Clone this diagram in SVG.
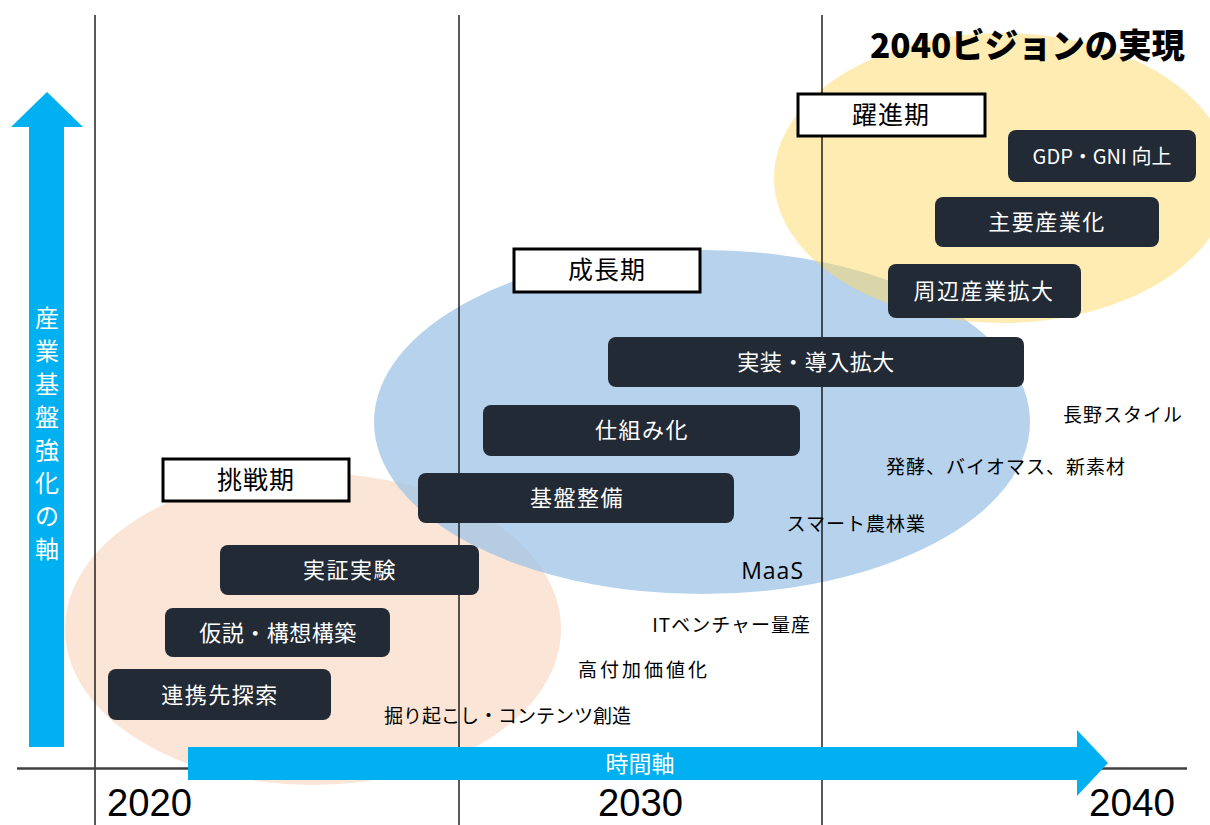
<svg xmlns="http://www.w3.org/2000/svg" width="1210" height="825" viewBox="0 0 1210 825">
<style>
.jp{font-family:"Noto Sans CJK JP","Noto Sans",sans-serif;}
.box rect{fill:#222A35;}
.box text{fill:#fff;font-size:22px;letter-spacing:1.5px;text-anchor:middle;font-family:"Noto Sans CJK JP","Noto Sans",sans-serif;}
.stage rect{fill:#fff;stroke:#000;stroke-width:3;}
.stage text{fill:#000;font-size:25px;letter-spacing:1px;text-anchor:middle;font-family:"Noto Sans CJK JP","Noto Sans",sans-serif;}
.lbl{fill:#000;font-size:19px;letter-spacing:1px;text-anchor:end;font-family:"Noto Sans CJK JP","Noto Sans",sans-serif;}
.year{fill:#000;font-family:"Liberation Sans Narrow","Liberation Sans",sans-serif;}
.vline{stroke:#000;stroke-width:1.3;}
.vt{fill:#fff;font-size:24px;text-anchor:middle;font-family:"Noto Sans CJK JP","Noto Sans",sans-serif;}
</style>
<rect width="1210" height="825" fill="#fff"/>
<g id="ellipses">
<ellipse cx="313" cy="629" rx="248" ry="156" fill="#FBE5D6"/>
<ellipse cx="702" cy="422" rx="328" ry="172" fill="#9DC3E6" fill-opacity="0.75"/>
<ellipse cx="1002" cy="178" rx="228" ry="145" fill="#FFD966" fill-opacity="0.5"/>
</g>
<g id="grid">
<line class="vline" x1="95" y1="15" x2="95" y2="825"/>
<line class="vline" x1="459" y1="15" x2="459" y2="825"/>
<line class="vline" x1="822" y1="15" x2="822" y2="825"/>
<line x1="17" y1="768.5" x2="1187" y2="768.5" stroke="#404040" stroke-width="2.5"/>
</g>
<g id="years">
<text class="year" x="107" y="816" font-size="38" textLength="85" lengthAdjust="spacingAndGlyphs">2020</text>
<text class="year" x="598" y="816" font-size="38" textLength="85" lengthAdjust="spacingAndGlyphs">2030</text>
<text class="year" x="1089" y="816" font-size="38" textLength="86" lengthAdjust="spacingAndGlyphs">2040</text>
</g>
<g id="axis-vertical">
<polygon points="29,747 29,127 11,127 47,92 83,127 64,127 64,747" fill="#00B0F0"/>
<text class="vt" x="47" y="327">産</text>
<text class="vt" x="47" y="360">業</text>
<text class="vt" x="47" y="393">基</text>
<text class="vt" x="47" y="426">盤</text>
<text class="vt" x="47" y="459">強</text>
<text class="vt" x="47" y="492">化</text>
<text class="vt" x="47" y="525">の</text>
<text class="vt" x="47" y="558">軸</text>
</g>
<g id="axis-time">
<polygon points="188,747 1077,747 1077,730 1108,763 1077,796 1077,780 188,780" fill="#00B0F0"/>
<text class="vt" x="640" y="772" style="font-size:23px">時間軸</text>
</g>
<g id="title">
<text class="jp" x="870" y="58" font-size="34" font-weight="900" fill="#000" textLength="315" lengthAdjust="spacingAndGlyphs">2040ビジョンの実現</text>
</g>
<g id="stage-yakushin" class="stage"><rect x="798" y="94" width="187" height="42"/><text x="891" y="124">躍進期</text></g>
<g id="stage-seicho" class="stage"><rect x="514" y="249" width="186" height="43"/><text x="607" y="279">成長期</text></g>
<g id="stage-chosen" class="stage"><rect x="163" y="459" width="186" height="42"/><text x="256" y="489">挑戦期</text></g>
<g id="box-gdp" class="box"><rect x="1008" y="130" width="188" height="52" rx="8"/><text x="1102" y="164" style="font-size:20px;letter-spacing:0px">GDP・GNI 向上</text></g>
<g id="box-shuyo" class="box"><rect x="935" y="197" width="224" height="50" rx="8"/><text x="1047" y="230">主要産業化</text></g>
<g id="box-shuhen" class="box"><rect x="888" y="264" width="193" height="54" rx="8"/><text x="984" y="299">周辺産業拡大</text></g>
<g id="box-jisso" class="box"><rect x="608" y="337" width="416" height="50" rx="8"/><text x="816" y="370" style="letter-spacing:0.5px">実装・導入拡大</text></g>
<g id="box-shikumi" class="box"><rect x="483" y="405" width="317" height="51" rx="8"/><text x="642" y="438">仕組み化</text></g>
<g id="box-kiban" class="box"><rect x="418" y="473" width="316" height="50" rx="8"/><text x="577" y="506">基盤整備</text></g>
<g id="box-jissho" class="box"><rect x="220" y="545" width="259" height="50" rx="8"/><text x="350" y="578">実証実験</text></g>
<g id="box-kasetsu" class="box"><rect x="165" y="608" width="225" height="49" rx="8"/><text x="278" y="641" style="letter-spacing:0.5px">仮説・構想構築</text></g>
<g id="box-renkei" class="box"><rect x="108" y="669" width="223" height="51" rx="8"/><text x="220" y="703">連携先探索</text></g>
<g id="labels">
<text class="lbl" x="1183" y="422">長野スタイル</text>
<text class="lbl" x="1126" y="474">発酵、バイオマス、新素材</text>
<text class="lbl" x="926" y="531">スマート農林業</text>
<text class="lbl" x="804" y="579" style="font-size:23px;letter-spacing:1px;font-family:'Open Sans','Noto Sans',sans-serif">MaaS</text>
<text class="lbl" x="811" y="632">ITベンチャー量産</text>
<text class="lbl" x="710" y="677" style="letter-spacing:3px">高付加価値化</text>
<text class="lbl" x="631" y="723" style="letter-spacing:0px">掘り起こし・コンテンツ創造</text>
</g>
</svg>
